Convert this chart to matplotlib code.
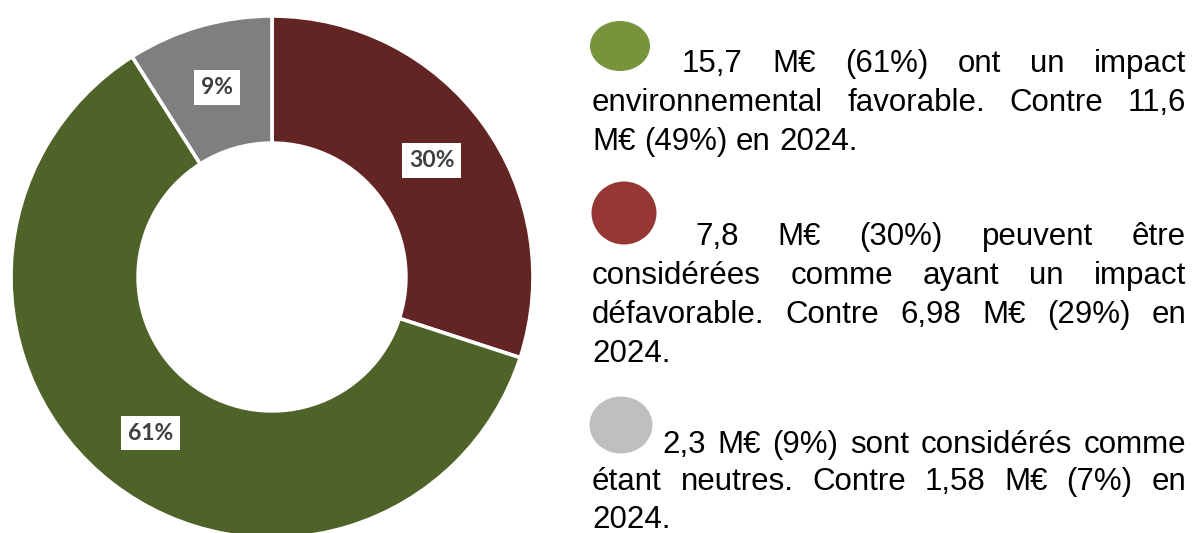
import matplotlib
matplotlib.use("Agg")
import numpy as np
import matplotlib.pyplot as plt
from matplotlib.patches import Ellipse

# ----- data -----
categories = ["Défavorable", "Favorable", "Neutre"]
shares = [30, 61, 9]
ring_colors = ["#632523", "#4F6228", "#7F7F7F"]
dot_colors = ["#953735", "#77933C", "#BFBFBF"]

# paragraph lines as they wrap in the picture
para_green = ["15,7 M€ (61%) ont un impact",
              "environnemental favorable. Contre 11,6",
              "M€ (49%) en 2024."]
para_red = ["7,8 M€ (30%) peuvent être",
            "considérées comme ayant un impact",
            "défavorable. Contre 6,98 M€ (29%) en",
            "2024."]
para_gray = ["2,3 M€ (9%) sont considérés comme",
             "étant neutres. Contre 1,58 M€ (7%) en",
             "2024."]

W, H = 1195, 533
fig = plt.figure(figsize=(W / 100, H / 100), dpi=100)
fig.patch.set_facecolor("white")

# ----- donut -----
cx, cy, R = 272, 277, 261
ax = fig.add_axes([(cx - R) / W, (H - cy - R) / H, 2 * R / W, 2 * R / H])
wedges, _, autotexts = ax.pie(
    shares, colors=ring_colors, startangle=90, counterclock=False,
    radius=1, autopct="%.0f%%", pctdistance=0.757,
    wedgeprops=dict(width=0.487, edgecolor="white", linewidth=2.6),
    textprops=dict(fontsize=16.5, fontweight="bold", color="#3F3F3F",
                   family="Lato"))
for t in autotexts:
    t.set_bbox(dict(facecolor="white", edgecolor="none", pad=5))
ax.set_xlim(-1, 1)
ax.set_ylim(-1, 1)
ax.axis("off")

# ----- justified text on the right -----
renderer = fig.canvas.get_renderer()
font = dict(family="Liberation Sans", fontsize=22.5, color="black")
x_right = 1186
x_left = 592


def px(x, y):
    return x / W, 1 - y / H


def draw_paragraph(lines, first_x, baselines):
    for i, (line, base) in enumerate(zip(lines, baselines)):
        x0 = first_x if i == 0 else x_left
        words = line.split(" ")
        texts = [fig.text(*px(x0, base), w, va="baseline", ha="left", **font)
                 for w in words]
        widths = [t.get_window_extent(renderer).width for t in texts]
        if i == len(lines) - 1 or len(words) == 1:
            space = fig.text(0, 0, "a a", **font).get_window_extent(renderer).width \
                - fig.text(0, 0, "aa", **font).get_window_extent(renderer).width
            fig.texts[-2:] = []
            gap = space
        else:
            gap = (x_right - x0 - sum(widths)) / (len(words) - 1)
        x = x0
        for t, w in zip(texts, widths):
            t.set_position(px(x, base))
            x += w + gap


draw_paragraph(para_green, 682, [72, 111, 150])
draw_paragraph(para_red, 695, [245, 284, 323, 362])
draw_paragraph(para_gray, 662, [453, 490, 528])

# coloured dots in front of each paragraph
dots = [((620, 46), 60, 50, dot_colors[1]),
        ((624, 213), 65, 63, dot_colors[0]),
        ((621, 425), 63, 57, dot_colors[2])]
for (x, y), w, h, c in dots:
    fig.add_artist(Ellipse(px(x, y), w / W, h / H, transform=fig.transFigure,
                           facecolor=c, edgecolor="none"))

fig.savefig("out.png", dpi=100, facecolor="white")
